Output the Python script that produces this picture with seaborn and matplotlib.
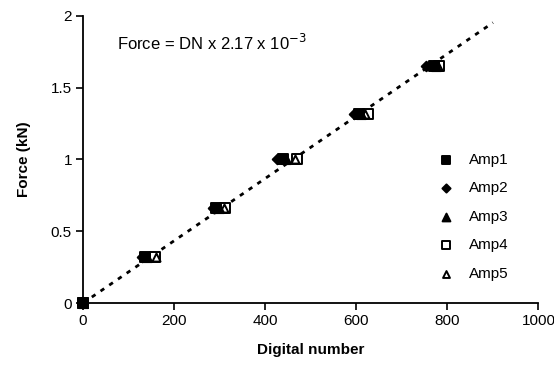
import matplotlib
matplotlib.use("Agg")
import matplotlib.pyplot as plt
import seaborn as sns
import numpy as np
import pandas as pd

sns.set_theme(style="ticks")
plt.rcParams['font.family'] = ['Liberation Sans', 'DejaVu Sans']

force = [0.0, 0.32, 0.66, 1.0, 1.32, 1.65]
amp1 = [0, 135, 292, 440, 605, 770]
amp2 = [0, 130, 285, 425, 595, 752]
amp3 = [0, 140, 298, 445, 610, 775]
amp4 = [0, 158, 312, 470, 625, 782]
amp5 = [0, 160, 310, 465, 620, 780]
slope = 2.17e-3
fit_dn = [0, 900]

series = {"Amp1": amp1, "Amp2": amp2, "Amp3": amp3, "Amp4": amp4, "Amp5": amp5}
markers = {"Amp1": "s", "Amp2": "D", "Amp3": "^", "Amp4": "s", "Amp5": "^"}
sizes = {"Amp1": 50, "Amp2": 24, "Amp3": 44, "Amp4": 42, "Amp5": 34}
filled = {"Amp1": True, "Amp2": True, "Amp3": True, "Amp4": False, "Amp5": False}
zorders = {"Amp1": 8, "Amp2": 7, "Amp3": 6, "Amp4": 4, "Amp5": 5}

fig = plt.figure(figsize=(5.54, 3.70), dpi=100)
ax = fig.add_axes([0.150, 0.181, 0.822, 0.776])

fit_df = pd.DataFrame({"dn": fit_dn, "f": [slope * v for v in fit_dn]})
sns.lineplot(data=fit_df, x="dn", y="f", ax=ax, color="black",
             linewidth=2.0, linestyle=(0, (1.6, 2.2)), zorder=1)

for name, vals in series.items():
    df = pd.DataFrame({"dn": vals, "f": force})
    fc = "black" if filled[name] else "white"
    sns.scatterplot(data=df, x="dn", y="f", ax=ax, marker=markers[name],
                    s=sizes[name], facecolor=fc, edgecolor="black",
                    linewidth=1.4, label=name, zorder=zorders[name], clip_on=False)

ax.set_xlim(0, 1000)
ax.set_ylim(0, 2)
ax.set_xticks([0, 200, 400, 600, 800, 1000])
ax.set_yticks([0, 0.5, 1, 1.5, 2])
ax.set_yticklabels(["0", "0.5", "1", "1.5", "2"])
ax.tick_params(axis="both", direction="out", length=5, width=1.2,
               labelsize=11, colors="black", pad=3)
for sp in ["left", "bottom"]:
    ax.spines[sp].set_linewidth(1.3)
    ax.spines[sp].set_color("black")
sns.despine(ax=ax)

ax.set_xlabel("Digital number", fontsize=11, fontweight="bold", labelpad=11,
              color="black")
ax.set_ylabel("Force (kN)", fontsize=11, fontweight="bold", labelpad=14,
              color="black")

ax.text(0.075, 0.905, r"Force = DN x 2.17 x 10$^{-3}$", transform=ax.transAxes,
        fontsize=12, ha="left", va="center", color="black")

leg = ax.legend(loc="center left", bbox_to_anchor=(0.75, 0.30), frameon=False,
                fontsize=11, handletextpad=0.5, labelspacing=0.95,
                borderaxespad=0, markerscale=0.85)
for t in leg.get_texts():
    t.set_color("black")

fig.savefig("out.png", dpi=100)
